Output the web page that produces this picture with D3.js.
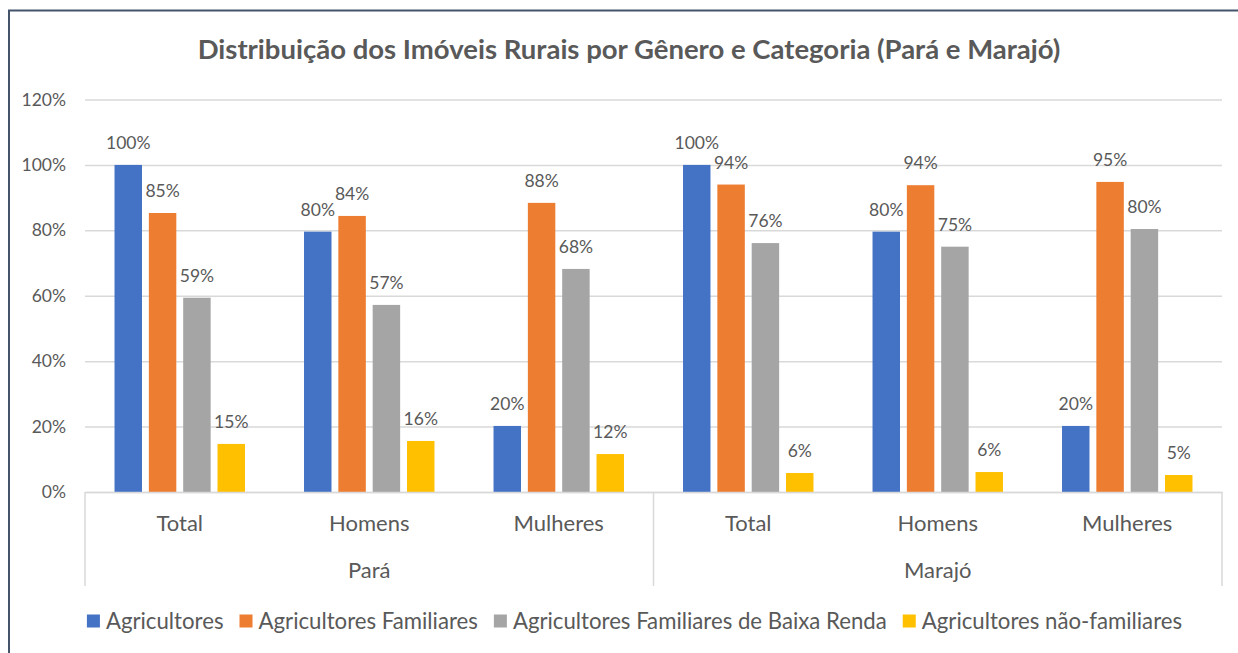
<!DOCTYPE html>
<html>
<head>
<meta charset="utf-8">
<script src="https://cdn.jsdelivr.net/npm/d3@7"></script>
<style>
  body { margin: 0; background: #fff; }
  svg { display: block; font-family: Lato, "Open Sans", sans-serif; }
</style>
</head>
<body>
<svg id="chart" width="1238" height="653"></svg>
<script>
// DATA -----------------------------------------------------------------------

var regions = ["Pará", "Marajó"];
var genders = ["Total", "Homens", "Mulheres"];
var seriesNames = ["Agricultores", "Agricultores Familiares",
                   "Agricultores Familiares de Baixa Renda", "Agricultores não-familiares"];

// values in order: Pará Total, Homens, Mulheres, Marajó Total, Homens, Mulheres
var agricultores  = [1.000, 0.796, 0.202, 1.000, 0.796, 0.202];
var familiares    = [0.853, 0.844, 0.884, 0.940, 0.938, 0.948];
var baixaRenda    = [0.594, 0.572, 0.682, 0.761, 0.750, 0.804];
var naoFamiliares = [0.147, 0.156, 0.116, 0.058, 0.061, 0.052];
var yTicks = [0, 0.2, 0.4, 0.6, 0.8, 1.0, 1.2];

var colors = ["#4472C4", "#ED7D31", "#A5A5A5", "#FFC000"];
var textColor = "#595959";
var gridColor = "#D9D9D9";


// LAYOUT ---------------------------------------------------------------------

var svg = d3.select("#chart");
var plotLeft = 85, plotRight = 1222, plotTop = 99.5, plotBottom = 492;
var catBottom = 586;   // where the category dividers stop

var series = [agricultores, familiares, baixaRenda, naoFamiliares];
var cats = [];
regions.forEach(function(r) {
    genders.forEach(function(g) { cats.push(r + "|" + g); });
});

var x = d3.scaleBand().domain(cats).range([plotLeft, plotRight]);
var xs = d3.scaleBand().domain(d3.range(series.length))
    .range([0, x.bandwidth()]).paddingInner(0.2).paddingOuter(0.86);
var y = d3.scaleLinear().domain([0, 1.2]).range([plotBottom, plotTop]);
var pct = d3.format(".0%");


// FRAME AND TITLE ------------------------------------------------------------

svg.append("rect").attr("width", 1238).attr("height", 653).attr("fill", "#fff");
svg.append("path")
   .attr("d", "M9,660 V10.5 H1240")
   .attr("fill", "none")
   .attr("stroke", "#44546A")
   .attr("stroke-width", 2);

svg.append("text")
   .attr("x", 629).attr("y", 59)
   .attr("text-anchor", "middle")
   .attr("font-size", 27.5).attr("font-weight", "bold")
   .attr("fill", textColor)
   .text("Distribuição dos Imóveis Rurais por Gênero e Categoria (Pará e Marajó)");


// Y AXIS + GRID --------------------------------------------------------------

var yAxis = svg.append("g")
    .attr("transform", "translate(" + plotLeft + ",0)")
    .call(d3.axisLeft(y).tickValues(yTicks).tickFormat(pct)
            .tickSize(-(plotRight - plotLeft)).tickPadding(19));
yAxis.select(".domain").remove();
yAxis.selectAll("line").attr("stroke", gridColor).attr("stroke-width", 1.5);
yAxis.selectAll("text")
     .attr("font-family", "Lato, sans-serif")
     .attr("font-size", 17.5).attr("fill", textColor);


// BARS + LABELS --------------------------------------------------------------

series.forEach(function(vals, s) {
    var g = svg.append("g");
    g.selectAll("rect").data(vals).enter()
     .append("rect")
     .attr("x", function(d, i) { return x(cats[i]) + xs(s); })
     .attr("y", function(d) { return y(d); })
     .attr("width", xs.bandwidth())
     .attr("height", function(d) { return plotBottom - y(d); })
     .attr("fill", colors[s]);
    g.selectAll("text").data(vals).enter()
     .append("text")
     .attr("x", function(d, i) { return x(cats[i]) + xs(s) + xs.bandwidth() / 2; })
     .attr("y", function(d) { return y(d) - 16; })
     .attr("text-anchor", "middle")
     .attr("font-size", 17.5).attr("fill", textColor)
     .text(function(d) { return pct(d); });
});


// CATEGORY AXIS --------------------------------------------------------------

var xAxis = svg.append("g")
    .attr("transform", "translate(0," + plotBottom + ")")
    .call(d3.axisBottom(x).tickSize(0).tickPadding(0)
            .tickFormat(function(d) { return d.split("|")[1]; }));
xAxis.select(".domain").attr("stroke", gridColor).attr("stroke-width", 1.5);
xAxis.selectAll("text")
     .attr("font-family", "Lato, sans-serif")
     .attr("font-size", 22).attr("fill", textColor)
     .attr("y", 31).attr("dy", "0.35em");

// dividers between regions
var dividers = [plotLeft, x(cats[3]), plotRight];
svg.selectAll(".divider").data(dividers).enter()
   .append("line")
   .attr("class", "divider")
   .attr("x1", function(d) { return d; }).attr("x2", function(d) { return d; })
   .attr("y1", plotBottom).attr("y2", catBottom)
   .attr("stroke", gridColor).attr("stroke-width", 1.5);

svg.selectAll(".region").data(regions).enter()
   .append("text")
   .attr("class", "region")
   .attr("x", function(d, i) { return x(cats[i * 3 + 1]) + x.bandwidth() / 2; })
   .attr("y", 570).attr("dy", "0.35em")
   .attr("text-anchor", "middle")
   .attr("font-size", 22).attr("fill", textColor)
   .text(function(d) { return d; });


// LEGEND ---------------------------------------------------------------------

var legend = svg.append("g");
var lx = 0;
seriesNames.forEach(function(name, i) {
    var item = legend.append("g").attr("transform", "translate(" + lx + ",0)");
    item.append("rect")
        .attr("x", 0).attr("y", -6.5)
        .attr("width", 13).attr("height", 13)
        .attr("fill", colors[i]);
    var t = item.append("text")
        .attr("x", 19).attr("dy", "0.35em")
        .attr("font-size", 22.2).attr("fill", textColor)
        .text(name);
    lx += 19 + t.node().getComputedTextLength() + 16;
});
var legendW = lx - 16;
legend.attr("transform", "translate(" + (634.5 - legendW / 2) + ",621)");
</script>
</body>
</html>
